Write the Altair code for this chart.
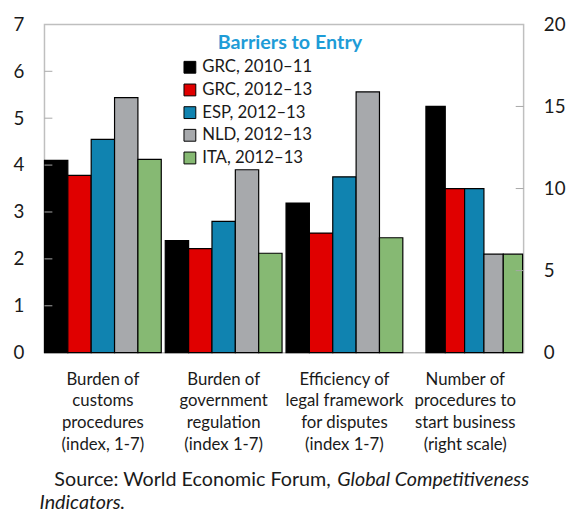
import altair as alt
import pandas as pd

CATEGORIES = [
    "Burden of\ncustoms\nprocedures\n(index, 1-7)",
    "Burden of\ngovernment\nregulation\n(index 1-7)",
    "Efficiency of\nlegal framework\nfor disputes\n(index 1-7)",
    "Number of\nprocedures  to\nstart business\n(right scale)",
]
SERIES = ["GRC, 2010–11", "GRC, 2012–13", "ESP, 2012–13", "NLD, 2012–13", "ITA, 2012–13"]
COLORS = ["#000000", "#e00000", "#1083b0", "#a7a9ac", "#86b973"]

GRC_2010_11 = [4.1, 2.39, 3.19, 15]
GRC_2012_13 = [3.78, 2.22, 2.55, 10]
ESP_2012_13 = [4.55, 2.8, 3.75, 10]
NLD_2012_13 = [5.44, 3.9, 5.56, 6]
ITA_2012_13 = [4.12, 2.12, 2.45, 6]

LEFT_TICKS = [0, 1, 2, 3, 4, 5, 6, 7]
RIGHT_TICKS = [0, 5, 10, 15, 20]

TITLE = "Barriers to Entry"
SOURCE_1 = "Source: World Economic Forum,"
SOURCE_2 = "Global Competitiveness"
SOURCE_3 = "Indicators."

FONT = "Lato"
W, H = 486, 333

values = [GRC_2010_11, GRC_2012_13, ESP_2012_13, NLD_2012_13, ITA_2012_13]
rows_left, rows_right = [], []
for s, vals in zip(SERIES, values):
    for ci, c in enumerate(CATEGORIES):
        row = {"category": c, "series": s, "value": vals[ci]}
        (rows_left if ci < 3 else rows_right).append(row)
df_left = pd.DataFrame(rows_left)
df_right = pd.DataFrame(rows_right)

x_enc = alt.X(
    "category:N",
    sort=CATEGORIES,
    scale=alt.Scale(domain=CATEGORIES, paddingInner=0.033, paddingOuter=0),
    axis=alt.Axis(
        title=None, labelAngle=0, labelExpr="split(datum.label, '\\n')",
        labelFontSize=17, labelLineHeight=22, labelPadding=19, ticks=False,
        domain=False, labelColor="#1a1a1a", labelFont=FONT,
    ),
)

color_enc = alt.Color(
    "series:N",
    scale=alt.Scale(domain=SERIES, range=COLORS),
    legend=alt.Legend(
        title=None, orient="none", legendX=139, legendY=35, symbolType="square",
        symbolSize=144, symbolStrokeColor="black", symbolStrokeWidth=1,
        symbolOpacity=1, labelFontSize=17, labelOffset=4, rowPadding=5,
        labelColor="#1a1a1a", labelFont=FONT, padding=0,
    ),
)

y_left = alt.Y(
    "value:Q",
    scale=alt.Scale(domain=[0, 7], nice=False),
    axis=alt.Axis(
        title=None, orient="left", values=LEFT_TICKS, labelFontSize=19,
        labelPadding=21, ticks=False, domain=False, grid=False,
        labelColor="#1a1a1a", labelFont=FONT,
    ),
)
y_right = alt.Y(
    "value:Q",
    scale=alt.Scale(domain=[0, 20], nice=False),
    axis=alt.Axis(
        title=None, orient="right", values=RIGHT_TICKS, labelFontSize=19,
        labelPadding=20, ticks=False, domain=False, grid=False,
        labelColor="#1a1a1a", labelFont=FONT,
    ),
)

bars_left = alt.Chart(df_left).mark_bar(stroke="black", strokeWidth=1.2).encode(
    x=x_enc,
    xOffset=alt.XOffset("series:N", scale=alt.Scale(domain=SERIES, paddingInner=0, paddingOuter=0)),
    y=y_left,
    color=color_enc,
)
bars_right = alt.Chart(df_right).mark_bar(stroke="black", strokeWidth=1.2).encode(
    x=x_enc,
    xOffset=alt.XOffset("series:N", scale=alt.Scale(domain=SERIES, paddingInner=0, paddingOuter=0.52, align=0.95)),
    y=y_right,
    color=color_enc,
)

ticks_left = alt.Chart(pd.DataFrame({"value": LEFT_TICKS[1:-1]})).mark_rule(
    color="#a8a8a8", strokeWidth=1
).encode(y=y_left, x=alt.value(0), x2=alt.value(8))
ticks_right = alt.Chart(pd.DataFrame({"value": RIGHT_TICKS[1:-1]})).mark_rule(
    color="#a8a8a8", strokeWidth=1
).encode(y=y_right, x=alt.value(W - 8), x2=alt.value(W))

title_txt = alt.Chart(pd.DataFrame({"t": [TITLE]})).mark_text(
    font=FONT, fontSize=20, fontWeight="bold", color="#1e9cd7", align="center", baseline="middle"
).encode(text="t:N", x=alt.value(249), y=alt.value(19))

src1 = alt.Chart(pd.DataFrame({"t": [SOURCE_1]})).mark_text(
    font=FONT, fontSize=20, color="#1a1a1a", align="left", baseline="middle"
).encode(text="t:N", x=alt.value(10), y=alt.value(462))
src2 = alt.Chart(pd.DataFrame({"t": [SOURCE_2]})).mark_text(
    font=FONT, fontSize=20, fontStyle="italic", color="#1a1a1a", align="left", baseline="middle"
).encode(text="t:N", x=alt.value(297), y=alt.value(462))
src3 = alt.Chart(pd.DataFrame({"t": [SOURCE_3]})).mark_text(
    font=FONT, fontSize=20, fontStyle="italic", color="#1a1a1a", align="left", baseline="middle"
).encode(text="t:N", x=alt.value(-5), y=alt.value(486))

left_layer = alt.layer(bars_left, ticks_left, title_txt, src1, src2, src3)
right_layer = alt.layer(bars_right, ticks_right)

chart = alt.layer(left_layer, right_layer).resolve_scale(
    y="independent", xOffset="independent"
).properties(
    width=W, height=H,
    autosize=alt.AutoSizeParams(type="none"),
    padding={"left": 37, "top": 13, "right": 43, "bottom": 160},
).configure(font=FONT).configure_view(stroke="#bfbfbf", strokeWidth=1.5)

chart.save("out.html", embed_options={"renderer": "svg", "actions": False})
